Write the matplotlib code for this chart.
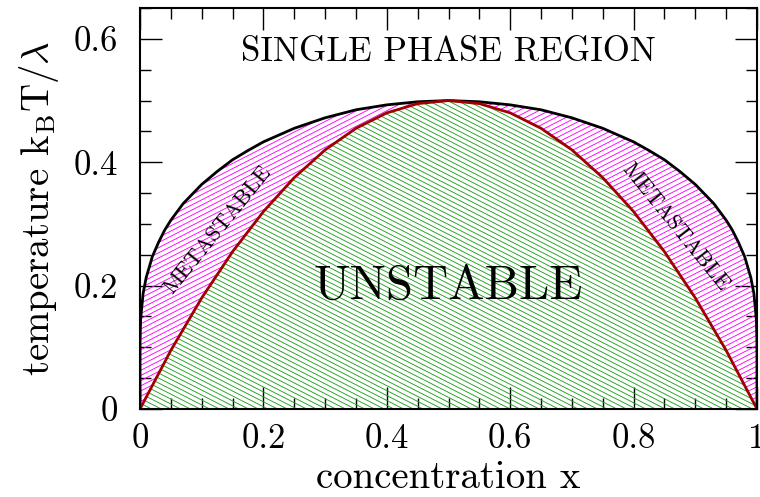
import numpy as np
import matplotlib
matplotlib.use("Agg")
import matplotlib.pyplot as plt
from matplotlib.collections import LineCollection
from matplotlib.ticker import MultipleLocator, FuncFormatter

# binodal (coexistence) curve
x_bin = [0, 0.0001, 0.001, 0.005, 0.01, 0.02, 0.03, 0.04, 0.05, 0.07, 0.1, 0.125,
         0.15, 0.175, 0.2, 0.25, 0.3, 0.35, 0.4, 0.45, 0.5, 0.55, 0.6, 0.65, 0.7,
         0.75, 0.8, 0.825, 0.85, 0.875, 0.9, 0.93, 0.95, 0.96, 0.97, 0.98, 0.99,
         0.995, 0.999, 0.9999, 1]
t_bin = [0, 0.109, 0.145, 0.187, 0.213, 0.247, 0.270, 0.290, 0.306, 0.333, 0.364,
         0.385, 0.404, 0.419, 0.433, 0.455, 0.472, 0.485, 0.493, 0.498, 0.500,
         0.498, 0.493, 0.485, 0.472, 0.455, 0.433, 0.419, 0.404, 0.385, 0.364,
         0.333, 0.306, 0.290, 0.270, 0.247, 0.213, 0.187, 0.145, 0.109, 0]

# spinodal curve
x_spin = [0, 0.05, 0.1, 0.15, 0.2, 0.25, 0.3, 0.35, 0.4, 0.45, 0.5,
          0.55, 0.6, 0.65, 0.7, 0.75, 0.8, 0.85, 0.9, 0.95, 1]
t_spin = [0, 0.095, 0.18, 0.255, 0.32, 0.375, 0.42, 0.455, 0.48, 0.495, 0.5,
          0.495, 0.48, 0.455, 0.42, 0.375, 0.32, 0.255, 0.18, 0.095, 0]

plt.rcParams['font.family'] = 'cmr10'
plt.rcParams['mathtext.fontset'] = 'cm'
plt.rcParams['axes.formatter.use_mathtext'] = True

fig = plt.figure(figsize=(7.6, 4.97), dpi=100)
ax = fig.add_axes([140/760, 88/497, 617/760, 401/497])


def hatch(ax, patch, angle, spacing, color):
    # sloped hatch lines (spacing in pixels) clipped to a patch
    bb = ax.get_position()
    w = bb.width * fig.get_figwidth() * fig.dpi
    h = bb.height * fig.get_figheight() * fig.dpi
    a = np.radians(angle)
    d = np.array([np.cos(a), np.sin(a)])
    n = np.array([-np.sin(a), np.cos(a)])
    c = np.array([w / 2, h / 2])
    L = np.hypot(w, h)
    segs = []
    for off in np.arange(-L, L, spacing):
        p0 = c + off * n - L * d
        p1 = c + off * n + L * d
        segs.append([(p0[0] / w, p0[1] / h), (p1[0] / w, p1[1] / h)])
    lc = LineCollection(segs, colors=color, linewidths=0.65, transform=ax.transAxes)
    ax.add_collection(lc)
    lc.set_clip_path(patch)


meta = ax.fill(list(x_bin) + x_spin[::-1], list(t_bin) + t_spin[::-1],
               facecolor='none', edgecolor='none')[0]
unst = ax.fill(x_spin, t_spin, facecolor='none', edgecolor='none')[0]
hatch(ax, meta, 27, 4.6, '#ff00ff')
hatch(ax, unst, -27, 4.4, '#1fa01f')

ax.plot(x_bin, t_bin, color='black', lw=2.0)
ax.plot(x_spin, t_spin, color='#a00000', lw=2.0)

ax.text(0.5, 0.578, 'SINGLE PHASE REGION', fontsize=25, ha='center', va='center')
ax.text(0.5, 0.198, 'UNSTABLE', fontsize=35, ha='center', va='center')
ax.text(0.126, 0.290, 'METASTABLE', fontsize=16, ha='center', va='center', rotation=51)
ax.text(0.868, 0.295, 'METASTABLE', fontsize=16, ha='center', va='center', rotation=-51)

ax.set_xlim(0, 1)
ax.set_ylim(0, 0.65)
ax.xaxis.set_major_locator(MultipleLocator(0.2))
ax.xaxis.set_minor_locator(MultipleLocator(0.05))
ax.yaxis.set_major_locator(MultipleLocator(0.2))
ax.yaxis.set_minor_locator(MultipleLocator(0.05))
fmt = FuncFormatter(lambda v, p: '%g' % round(v, 3))
ax.xaxis.set_major_formatter(fmt)
ax.yaxis.set_major_formatter(fmt)
ax.tick_params(which='both', direction='in', top=True, right=True, width=1)
ax.tick_params(which='major', length=16)
ax.tick_params(which='minor', length=8)
ax.tick_params(axis='x', which='major', labelsize=25, pad=10)
ax.tick_params(axis='y', which='major', labelsize=25, pad=16)
for s in ax.spines.values():
    s.set_linewidth(1.5)

ax.set_xlabel('concentration x', fontsize=28, labelpad=4)
ax.set_ylabel(r'temperature k$_\mathrm{B}$T/$\lambda$', fontsize=28, labelpad=9)

fig.savefig('out.png', dpi=100)
